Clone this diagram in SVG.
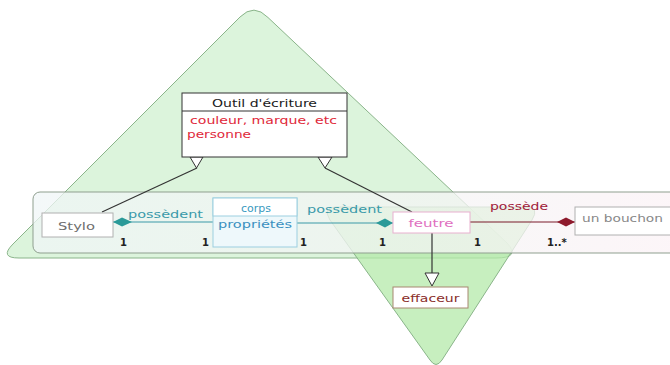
<svg xmlns="http://www.w3.org/2000/svg" width="670" height="365" viewBox="0 0 670 365">
<style>
text{font-family:"DejaVu Sans","Liberation Sans",sans-serif;font-size:11px}
.box{fill:#ffffff;stroke-width:1}
.one{font-size:10px;font-weight:bold;fill:#222}
.gen{fill:#ffffff;stroke:#333;stroke-width:1}
.edge{fill:none;stroke-width:1.2}
</style>
<defs>
<linearGradient id="bandg" x1="0" y1="0" x2="1" y2="0">
<stop offset="0" stop-color="#f0f6f7"/>
<stop offset="0.55" stop-color="#f4f5f5"/>
<stop offset="1" stop-color="#fcf2f6"/>
</linearGradient>
</defs>
<rect width="670" height="365" fill="#ffffff"/>
<g id="regions">
<path d="M240,17 Q254,3 268,17.5 L507,243 Q521,258 496,258 L19,258 Q-1,258 13,244 Z" fill="#dcf4dc" stroke="#8ab48a" stroke-width="1"/>
<path d="M336,207 L526,207 Q540,207 532,220 L442,360 Q436,369 430,360 L330,220 Q322,207 336,207 Z" fill="#b4eaaa" fill-opacity="0.75" stroke="#8ab48a" stroke-width="1"/>
<rect x="33" y="192" width="660" height="61" rx="7" fill="url(#bandg)" fill-opacity="0.75" stroke="#8f9f8f" stroke-width="1"/>
</g>
<g id="connectors">
<line class="edge" x1="102" y1="212" x2="197" y2="168" stroke="#333"/>
<line class="edge" x1="412" y1="212" x2="325" y2="168" stroke="#333"/>
<line class="edge" x1="432" y1="233" x2="432" y2="273" stroke="#333"/>
<polygon class="gen" points="190,157 203,157 196.5,168"/>
<polygon class="gen" points="318,157 332,157 325,168"/>
<polygon class="gen" points="425,273 439,273 432,286"/>
<line class="edge" x1="113" y1="222" x2="213" y2="222" stroke="#3a9aa8"/>
<polygon points="113,222 122,217.5 132,222 122,226.5" fill="#2a9a98"/>
<line class="edge" x1="297" y1="223" x2="393" y2="223" stroke="#3a9aa8"/>
<polygon points="376,223 385,218.5 393,223 385,227.5" fill="#2a9a98"/>
<line class="edge" x1="470" y1="222" x2="575" y2="222" stroke="#7a1a2a"/>
<polygon points="557,222 566,217.5 575,222 566,226.5" fill="#8e1a2c"/>
<text x="128" y="218" fill="#3a9aaa" textLength="75" lengthAdjust="spacingAndGlyphs">possèdent</text>
<text x="307" y="213" fill="#3a9aaa" textLength="75" lengthAdjust="spacingAndGlyphs">possèdent</text>
<text x="490" y="210" fill="#a0203a" textLength="58" lengthAdjust="spacingAndGlyphs">possède</text>
<text class="one" x="120" y="246">1</text>
<text class="one" x="202" y="246">1</text>
<text class="one" x="300" y="246">1</text>
<text class="one" x="379" y="246">1</text>
<text class="one" x="474" y="246">1</text>
<text class="one" x="547" y="246">1..*</text>
</g>
<g id="outil">
<rect class="box" x="182" y="93" width="165" height="64" stroke="#333"/>
<line x1="182" y1="111" x2="347" y2="111" stroke="#333"/>
<text x="264.5" y="107" text-anchor="middle" fill="#1a1a1a" textLength="105" lengthAdjust="spacingAndGlyphs">Outil d'écriture</text>
<text x="190" y="124" fill="#e0283a" textLength="147" lengthAdjust="spacingAndGlyphs">couleur, marque, etc</text>
<text x="187" y="138" fill="#e0283a" textLength="64" lengthAdjust="spacingAndGlyphs">personne</text>
</g>
<g id="stylo">
<rect class="box" x="42" y="213" width="71" height="24" stroke="#b0b0b0"/>
<text x="58" y="230" fill="#6e6e6e" textLength="37" lengthAdjust="spacingAndGlyphs">Stylo</text>
</g>
<g id="corps">
<rect x="213" y="198" width="84" height="49" fill="#eef8fb" stroke="#9ccfe0"/>
<rect x="213" y="198" width="84" height="18" fill="#ffffff" stroke="#9ccfe0"/>
<text x="256" y="212" text-anchor="middle" fill="#3a9ac0" font-size="12">corps</text>
<text x="255" y="228" text-anchor="middle" fill="#3a90c0" textLength="74" lengthAdjust="spacingAndGlyphs">propriétés</text>
</g>
<g id="feutre">
<rect class="box" x="393" y="212" width="77" height="21" stroke="#e8b0cf"/>
<text x="431" y="227" text-anchor="middle" fill="#e070c0" textLength="45" lengthAdjust="spacingAndGlyphs">feutre</text>
</g>
<g id="bouchon">
<rect class="box" x="575" y="207" width="105" height="28" stroke="#b0b0b0"/>
<text x="582" y="222" fill="#888888" textLength="81" lengthAdjust="spacingAndGlyphs">un bouchon</text>
</g>
<g id="effaceur">
<rect class="box" x="393" y="287" width="75" height="21" stroke="#a88870"/>
<text x="430.5" y="302" text-anchor="middle" fill="#8a2e2a" textLength="58" lengthAdjust="spacingAndGlyphs">effaceur</text>
</g>
</svg>
